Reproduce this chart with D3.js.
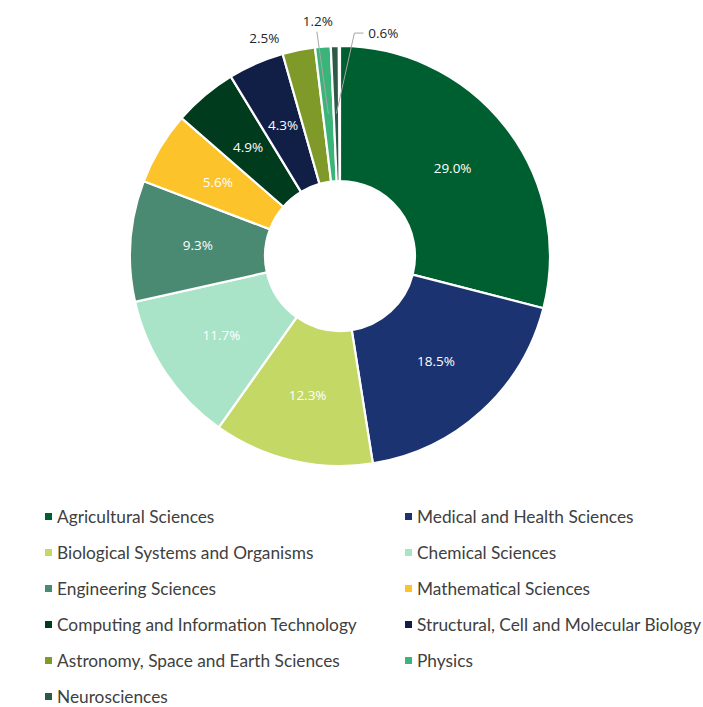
<!DOCTYPE html>
<html lang="en">
<head>
    <meta charset="UTF-8">
    <title>Research fields donut</title>
    <script src="https://d3js.org/d3.v7.min.js"></script>
    <style>
        body { margin: 0; background: #fff; }
    </style>
</head>
<body>
<script>
    const width  = 703;
    const height = 707;

    const fields = [
        "Agricultural Sciences", "Medical and Health Sciences",
        "Biological Systems and Organisms", "Chemical Sciences",
        "Engineering Sciences", "Mathematical Sciences",
        "Computing and Information Technology", "Structural, Cell and Molecular Biology",
        "Astronomy, Space and Earth Sciences", "Physics", "Neurosciences"
    ];
    const shares = [29.0, 18.5, 12.3, 11.7, 9.3, 5.6, 4.9, 4.3, 2.5, 1.2, 0.6];
    const colors = [
        "#005f30", "#1b3370", "#c3d865", "#a9e3c8", "#4a8a72", "#fcc32a",
        "#003b1d", "#111e46", "#7f9a29", "#3bb479", "#2d5a47"
    ];

    const cx = 340, cy = 256;
    const outerR = 210, innerR = 75;

    const svg = d3.select("body")
        .append("svg")
        .attr("width", width)
        .attr("height", height);

    const data = fields.map((f, i) => ({field: f, value: shares[i], color: colors[i]}));
    const total = d3.sum(shares);

    const pie = d3.pie()
        .sort(null)
        .value(d => d.value)
        .startAngle(0)
        .endAngle(2 * Math.PI * total / 100);

    const arc = d3.arc().innerRadius(innerR).outerRadius(outerR);
    const labelArc = d3.arc().innerRadius(outerR + 12).outerRadius(outerR + 12);

    const g = svg.append("g")
        .attr("transform", "translate(" + [cx, cy] + ")");

    const arcs = pie(data);

    g.selectAll("path.slice")
        .data(arcs)
        .enter().append("path")
        .attr("class", "slice")
        .attr("d", arc)
        .attr("fill", d => d.data.color)
        .attr("stroke", "#fff")
        .attr("stroke-width", 2.2);

    // labels inside slices
    g.selectAll("text.inner")
        .data(arcs.filter(d => d.data.value >= 4))
        .enter().append("text")
        .attr("class", "inner")
        .attr("transform", d => "translate(" + arc.centroid(d) + ")")
        .attr("text-anchor", "middle")
        .attr("dy", "0.35em")
        .style("font-family", "'Open Sans', sans-serif")
        .style("font-size", "13.5px")
        .style("fill", "#fff")
        .text(d => d.data.value.toFixed(1) + "%");

    // small slices: label outside, some with leader lines
    const nudge = {
        "Astronomy, Space and Earth Sciences": {dx: -32, dy: 0, line: false},
        "Physics": {dx: -4, dy: -13, line: true},
        "Neurosciences": {dx: 49, dy: -1, line: true}
    };
    const small = arcs.filter(d => d.data.value < 4);

    small.forEach(d => {
        const p = labelArc.centroid(d);
        const n = nudge[d.data.field];
        const lx = p[0] + n.dx, ly = p[1] + n.dy;
        const c = arc.centroid(d);
        if (n.line) {
            let pts;
            if (n.dx > 20) {
                pts = [[lx - 20, ly], [lx - 29, ly], c];
            } else {
                pts = [[lx - 1, ly + 10], c];
            }
            g.append("path")
                .attr("d", d3.line()(pts))
                .attr("fill", "none")
                .attr("stroke", "#a6a6a6")
                .attr("stroke-width", 1);
        }
        g.append("text")
            .attr("x", lx)
            .attr("y", ly)
            .attr("text-anchor", "middle")
            .attr("dy", "0.35em")
            .style("font-family", "'Open Sans', sans-serif")
            .style("font-size", "13.5px")
            .style("fill", "#262626")
            .text(d.data.value.toFixed(1) + "%");
    });

    // legend, two columns
    const colX = [45, 405];
    const rowY = d3.scaleLinear().domain([0, 1]).range([517, 553]);

    const legend = svg.append("g")
        .selectAll("g")
        .data(data)
        .enter().append("g")
        .attr("transform", (d, i) => "translate(" + [colX[i % 2], rowY(Math.floor(i / 2))] + ")");

    legend.append("rect")
        .attr("x", 0)
        .attr("y", -4)
        .attr("width", 7)
        .attr("height", 7)
        .attr("fill", d => d.color);

    legend.append("text")
        .attr("x", 12)
        .attr("dy", "0.35em")
        .style("font-family", "Lato, sans-serif")
        .style("font-size", "17.3px")
        .style("fill", "#404040")
        .text(d => d.field);
</script>
</body>
</html>
